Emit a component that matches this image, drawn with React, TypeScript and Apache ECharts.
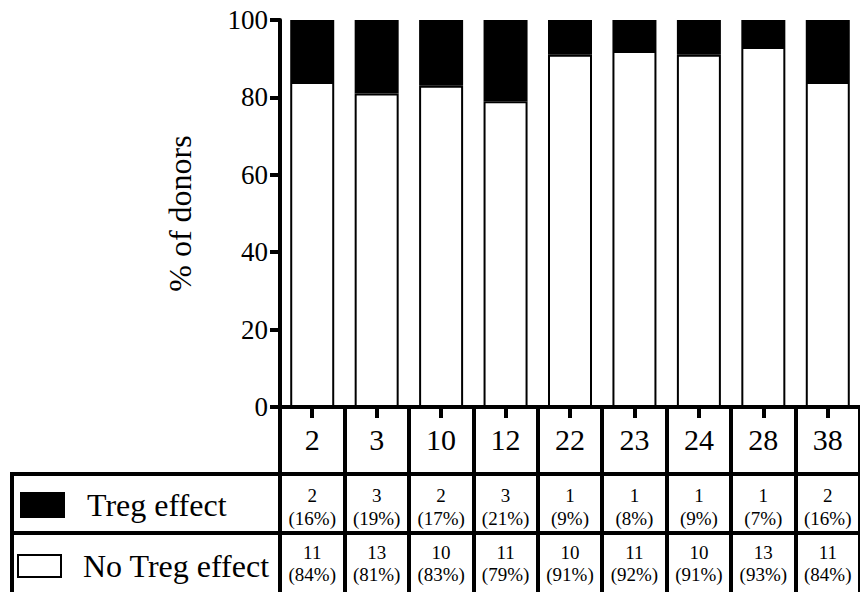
import React, { useEffect, useRef } from "react";
import * as echarts from "echarts";

const categories = ["2", "3", "10", "12", "22", "23", "24", "28", "38"];
const noTregPct = [84, 81, 83, 79, 91, 92, 91, 93, 84];
const tregPct = [16, 19, 17, 21, 9, 8, 9, 7, 16];
const tregCount = [2, 3, 2, 3, 1, 1, 1, 1, 2];
const noTregCount = [11, 13, 10, 11, 10, 11, 10, 13, 11];
const yTicks = [0, 20, 40, 60, 80, 100];

const FONT = "'Liberation Serif', 'Times New Roman', serif";

export default function App() {
  const ref = useRef<HTMLDivElement>(null);
  useEffect(() => {
    if (!ref.current) return;
    const chart = echarts.init(ref.current, undefined, { renderer: "svg" });
    const baseX = {
      type: "category",
      data: categories,
      gridIndex: 0,
      position: "bottom",
      boundaryGap: true,
    };
    chart.setOption({
      animation: false,
      backgroundColor: "#fff",
      textStyle: { fontFamily: FONT, color: "#000" },
      grid: { left: 280, right: 0, top: 20, bottom: 185, containLabel: false },
      legend: [
        {
          data: ["Treg effect"],
          left: 20,
          top: 489,
          padding: 0,
          icon: "rect",
          itemWidth: 43,
          itemHeight: 24,
          itemStyle: { borderColor: "#000", borderWidth: 2 },
          textStyle: { fontFamily: FONT, fontSize: 32, color: "#000", lineHeight: 32, padding: [0, 0, 0, 18] },
          selectedMode: false,
        },
        {
          data: ["No Treg effect"],
          left: 17,
          top: 550,
          padding: 0,
          icon: "rect",
          itemWidth: 43,
          itemHeight: 22,
          itemStyle: { borderColor: "#000", borderWidth: 2 },
          textStyle: { fontFamily: FONT, fontSize: 32, color: "#000", lineHeight: 32, padding: [0, 0, 0, 17] },
          selectedMode: false,
        },
      ],
      xAxis: [
        {
          ...baseX,
          axisLine: { show: true, lineStyle: { color: "#000", width: 4 } },
          axisTick: { show: true, alignWithLabel: true, length: 11, lineStyle: { color: "#000", width: 4 } },
          axisLabel: { color: "#000", fontFamily: FONT, fontSize: 30, lineHeight: 30, margin: 17 },
          splitLine: { show: false },
        },
        {
          ...baseX,
          offset: 0,
          axisLine: { show: false },
          axisTick: { show: true, alignWithLabel: false, length: 185, lineStyle: { color: "#000", width: 4 } },
          axisLabel: { show: false },
          splitLine: { show: false },
        },
        {
          ...baseX,
          offset: 77,
          axisLine: { show: false },
          axisTick: { show: false },
          axisLabel: {
            color: "#000",
            fontFamily: FONT,
            fontSize: 19,
            lineHeight: 23,
            margin: 0,
            formatter: (_v: string, i: number) => `${tregCount[i]}\n(${tregPct[i]}%)`,
          },
        },
        {
          ...baseX,
          offset: 134,
          axisLine: { show: false },
          axisTick: { show: false },
          axisLabel: {
            color: "#000",
            fontFamily: FONT,
            fontSize: 19,
            lineHeight: 22,
            margin: 0,
            formatter: (_v: string, i: number) => `${noTregCount[i]}\n(${noTregPct[i]}%)`,
          },
        },
      ],
      yAxis: {
        type: "value",
        min: yTicks[0],
        max: yTicks[yTicks.length - 1],
        interval: 20,
        name: "% of donors",
        nameLocation: "middle",
        nameGap: 84,
        nameTextStyle: { fontFamily: FONT, fontSize: 32, color: "#000" },
        axisLine: { show: true, lineStyle: { color: "#000", width: 4 } },
        axisTick: { show: true, length: 10, lineStyle: { color: "#000", width: 4 } },
        axisLabel: { color: "#000", fontFamily: FONT, fontSize: 27, margin: 12 },
        splitLine: { show: false },
      },
      series: [
        {
          name: "No Treg effect",
          type: "bar",
          stack: "total",
          xAxisIndex: 0,
          barWidth: 44,
          data: noTregPct,
          itemStyle: { color: "#fff", borderColor: "#000", borderWidth: 2 },
        },
        {
          name: "Treg effect",
          type: "bar",
          stack: "total",
          xAxisIndex: 0,
          barWidth: 44,
          data: tregPct,
          itemStyle: { color: "#000", borderColor: "#000", borderWidth: 2 },
        },
      ],
      graphic: [
        { type: "line", shape: { x1: 10, y1: 474, x2: 860, y2: 474 }, style: { stroke: "#000", lineWidth: 4 } },
        { type: "line", shape: { x1: 10, y1: 533, x2: 860, y2: 533 }, style: { stroke: "#000", lineWidth: 4 } },
        { type: "line", shape: { x1: 12, y1: 472, x2: 12, y2: 592 }, style: { stroke: "#000", lineWidth: 4 } },
      ],
    });
    return () => chart.dispose();
  }, []);
  return (
    <div
      ref={ref}
      style={{ position: "fixed", left: 0, top: 0, width: 860, height: 592, background: "#fff" }}
    />
  );
}
